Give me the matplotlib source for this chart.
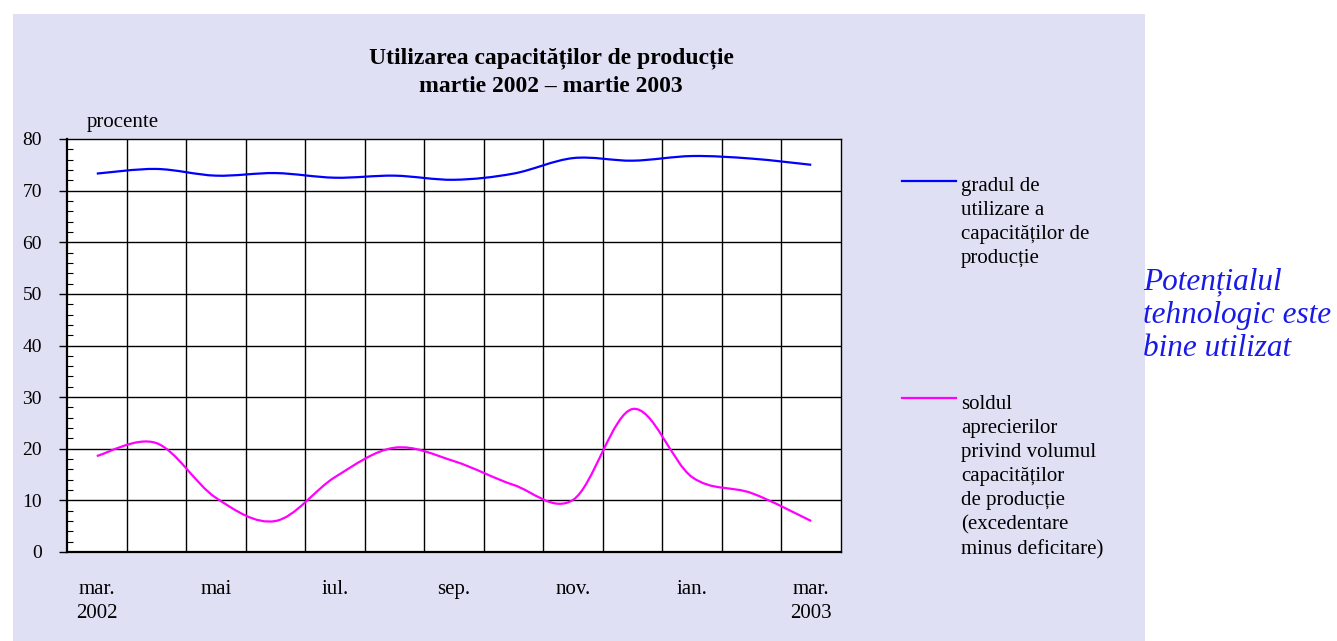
import numpy as np
import matplotlib
matplotlib.use('Agg')
import matplotlib.pyplot as plt
from matplotlib.path import Path
from matplotlib.patches import PathPatch, Rectangle
from matplotlib.lines import Line2D

# Date (martie 2002 - martie 2003)
luni = ['mar.', 'apr.', 'mai', 'iun.', 'iul.', 'aug.', 'sep.', 'oct.',
        'nov.', 'dec.', 'ian.', 'feb.', 'mar.']
grad_utilizare = [73.3, 74.2, 72.9, 73.4, 72.5, 72.9, 72.1, 73.3,
                  76.3, 75.8, 76.7, 76.2, 75.0]
sold_aprecieri = [18.6, 21.1, 10.5, 6.0, 14.5, 20.2, 17.6, 13.0,
                  10.1, 27.7, 14.5, 11.4, 6.0]
etichete_x = ['mar.\n2002', 'mai', 'iul.', 'sep.', 'nov.', 'ian.', 'mar.\n2003']

plt.rcParams['font.family'] = ['Liberation Serif', 'DejaVu Serif']

W, H = 1337, 641


def fx(px):
    return px / W


def fy(py):
    return 1 - py / H


def curba_neteda(xs, ys):
    # Catmull-Rom transformat in segmente Bezier cubice
    p = np.column_stack([xs, ys]).astype(float)
    ext = np.vstack([p[0], p, p[-1]])
    verts = [p[0]]
    codes = [Path.MOVETO]
    for i in range(1, len(ext) - 2):
        p0, p1, p2, p3 = ext[i - 1], ext[i], ext[i + 1], ext[i + 2]
        c1 = p1 + (p2 - p0) / 6
        c2 = p2 - (p3 - p1) / 6
        verts += [c1, c2, p2]
        codes += [Path.CURVE4] * 3
    return Path(verts, codes)


fig = plt.figure(figsize=(W / 100, H / 100), dpi=100)
fig.patches.append(Rectangle((fx(13), 0), fx(1145) - fx(13), fy(14),
                             transform=fig.transFigure, facecolor='#e0e0f5',
                             edgecolor='none', zorder=-5))

ax = fig.add_axes([fx(67), fy(552), fx(841) - fx(67), fy(139) - fy(552)])
ax.set_zorder(2)
ax.set_facecolor('white')

x = np.arange(len(luni))
ax.add_patch(PathPatch(curba_neteda(x, grad_utilizare), facecolor='none',
                       edgecolor='#0000ff', lw=1.6, zorder=3))
ax.add_patch(PathPatch(curba_neteda(x, sold_aprecieri), facecolor='none',
                       edgecolor='#ff00ff', lw=1.6, zorder=3))

ax.set_xlim(-0.5, len(luni) - 0.5)
ax.set_ylim(0, 80)

# linii verticale intre luni
for b in np.arange(0.5, len(luni) - 0.5, 1):
    ax.axvline(b, color='black', lw=1.0, zorder=1)
for v in range(10, 80, 10):
    ax.axhline(v, color='black', lw=1.0, zorder=1)

ax.set_xticks(x[::2])
ax.set_xticklabels(etichete_x, fontsize=15)
ax.tick_params(axis='x', length=0, pad=20)
for lbl in ax.get_xticklabels():
    lbl.set_linespacing(1.36)

ax.set_yticks(range(0, 81, 10))
ax.set_yticks(range(0, 81, 2), minor=True)
ax.tick_params(axis='y', which='major', direction='out', length=6,
               width=1, labelsize=14, pad=12)
ax.tick_params(axis='y', which='minor', direction='in', length=4, width=0.8)

for s in ['left', 'bottom']:
    ax.spines[s].set_linewidth(1.6)
for s in ['top', 'right']:
    ax.spines[s].set_linewidth(1.0)

fig.text(fx(551), fy(72), 'Utilizarea capacităților de producție\nmartie 2002 – martie 2003',
         ha='center', va='center', fontsize=17, fontweight='bold', linespacing=1.4)
fig.text(fx(87), fy(122), 'procente', ha='left', va='center', fontsize=15)

# legenda
fig.add_artist(Line2D([fx(902), fx(956)], [fy(181), fy(181)], color='#0000ff', lw=1.6))
fig.text(fx(961), fy(177), 'gradul de\nutilizare a\ncapacităților de\nproducție',
         ha='left', va='top', fontsize=15, linespacing=1.36)
fig.add_artist(Line2D([fx(902), fx(956)], [fy(398), fy(398)], color='#ff00ff', lw=1.6))
fig.text(fx(961), fy(395), 'soldul\naprecierilor\nprivind volumul\ncapacităților\n'
         'de producție\n(excedentare\nminus deficitare)',
         ha='left', va='top', fontsize=15, linespacing=1.36)

fig.text(fx(1143), fy(267), 'Potențialul\ntehnologic este\nbine utilizat',
         ha='left', va='top', fontsize=22.5, style='italic', color='#1a1ae6',
         linespacing=1.21)

fig.savefig('out.png', dpi=100)
